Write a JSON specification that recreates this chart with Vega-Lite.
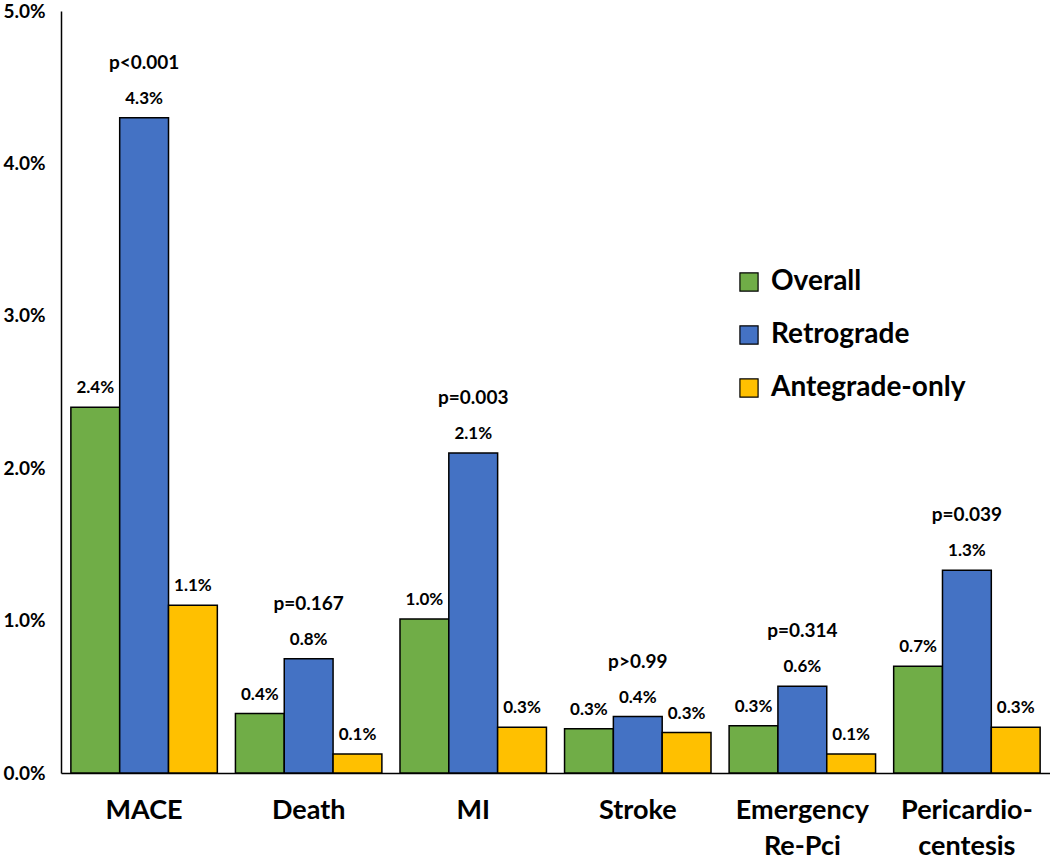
{
  "$schema": "https://vega.github.io/schema/vega-lite/v6.json",
  "width": 989,
  "height": 762,
  "autosize": {"type": "none"},
  "padding": {"left": 61, "top": 11, "right": 0, "bottom": 88},
  "background": "white",
  "config": {
    "view": {"stroke": null},
    "font": "Lato",
    "axis": {"grid": false, "domainColor": "black", "domainWidth": 1.5, "ticks": false, "labelFont": "Lato", "labelFontWeight": "bold", "labelColor": "black", "title": null}
  },
  "data": {
    "values": [
      {"cat": "MACE", "grp": "Overall", "v": 2.4, "label": "2.4%"},
      {"cat": "MACE", "grp": "Retrograde", "v": 4.3, "label": "4.3%", "p": "p<0.001"},
      {"cat": "MACE", "grp": "Antegrade-only", "v": 1.1, "label": "1.1%"},
      {"cat": "Death", "grp": "Overall", "v": 0.39, "label": "0.4%"},
      {"cat": "Death", "grp": "Retrograde", "v": 0.75, "label": "0.8%", "p": "p=0.167"},
      {"cat": "Death", "grp": "Antegrade-only", "v": 0.125, "label": "0.1%"},
      {"cat": "MI", "grp": "Overall", "v": 1.01, "label": "1.0%"},
      {"cat": "MI", "grp": "Retrograde", "v": 2.1, "label": "2.1%", "p": "p=0.003"},
      {"cat": "MI", "grp": "Antegrade-only", "v": 0.3, "label": "0.3%"},
      {"cat": "Stroke", "grp": "Overall", "v": 0.29, "label": "0.3%"},
      {"cat": "Stroke", "grp": "Retrograde", "v": 0.37, "label": "0.4%", "p": "p>0.99"},
      {"cat": "Stroke", "grp": "Antegrade-only", "v": 0.265, "label": "0.3%"},
      {"cat": "Emergency Re-Pci", "grp": "Overall", "v": 0.31, "label": "0.3%"},
      {"cat": "Emergency Re-Pci", "grp": "Retrograde", "v": 0.57, "label": "0.6%", "p": "p=0.314"},
      {"cat": "Emergency Re-Pci", "grp": "Antegrade-only", "v": 0.125, "label": "0.1%"},
      {"cat": "Pericardiocentesis", "grp": "Overall", "v": 0.7, "label": "0.7%"},
      {"cat": "Pericardiocentesis", "grp": "Retrograde", "v": 1.33, "label": "1.3%", "p": "p=0.039"},
      {"cat": "Pericardiocentesis", "grp": "Antegrade-only", "v": 0.3, "label": "0.3%"}
    ]
  },
  "encoding": {
    "x": {
      "field": "cat", "type": "nominal", "sort": null,
      "scale": {"paddingInner": 0.11, "paddingOuter": 0.06},
      "axis": {
        "labelAngle": 0, "labelFontSize": 27, "labelPadding": 24, "labelLineHeight": 36,
        "labelExpr": "datum.value == 'Emergency Re-Pci' ? ['Emergency', 'Re-Pci'] : datum.value == 'Pericardiocentesis' ? ['Pericardio-', 'centesis'] : datum.value"
      }
    },
    "xOffset": {"field": "grp", "type": "nominal", "sort": ["Overall", "Retrograde", "Antegrade-only"], "scale": {"paddingInner": 0, "paddingOuter": 0}},
    "y": {
      "field": "v", "type": "quantitative",
      "scale": {"domain": [0, 5], "nice": false},
      "axis": {"values": [0, 1, 2, 3, 4, 5], "labelFontSize": 19, "labelPadding": 16, "labelExpr": "format(datum.value, '.1f') + '%'"}
    }
  },
  "layer": [
    {
      "mark": {"type": "bar", "stroke": "black", "strokeWidth": 1.5},
      "encoding": {
        "color": {
          "field": "grp", "type": "nominal", "sort": ["Overall", "Retrograde", "Antegrade-only"],
          "scale": {"domain": ["Overall", "Retrograde", "Antegrade-only"], "range": ["#70AD47", "#4472C4", "#FFC000"]},
          "legend": {
            "title": null, "orient": "none", "legendX": 674, "legendY": 257,
            "symbolType": "square", "symbolSize": 330, "symbolStrokeColor": "black", "symbolStrokeWidth": 1.2,
            "labelFont": "Lato", "labelFontWeight": "bold", "labelFontSize": 28, "labelColor": "black", "labelLimit": 0,
            "rowPadding": 25, "labelOffset": 8
          }
        }
      }
    },
    {
      "mark": {"type": "text", "font": "Lato", "fontWeight": "bold", "fontSize": 17, "baseline": "middle", "dy": -19, "color": "black"},
      "encoding": {"text": {"field": "label"}}
    },
    {
      "transform": [{"filter": "datum.p != null"}],
      "mark": {"type": "text", "font": "Lato", "fontWeight": "bold", "fontSize": 19, "baseline": "middle", "dy": -55, "color": "black"},
      "encoding": {"text": {"field": "p"}}
    }
  ]
}
